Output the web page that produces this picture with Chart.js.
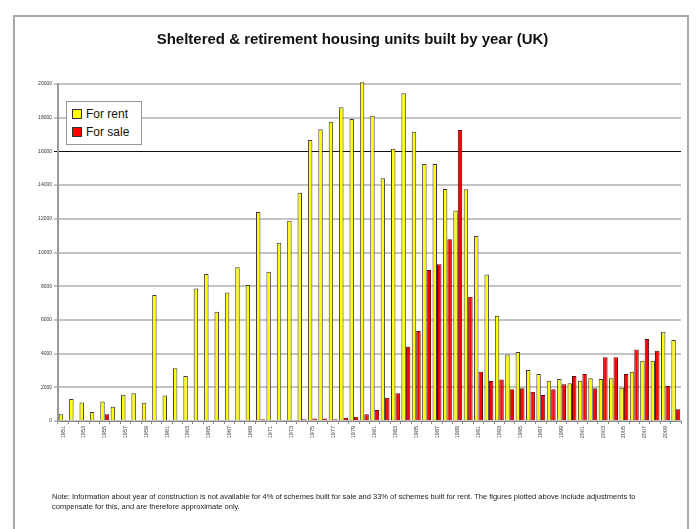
<!DOCTYPE html>
<html>
<head>
<meta charset="utf-8">
<script src="https://cdn.jsdelivr.net/npm/chart.js@4.4.1/dist/chart.umd.min.js"></script>
<style>
    html, body { margin: 0; padding: 0; background: #fff; overflow: hidden; }
    #wrap { position: relative; width: 696px; height: 529px; }
    #frame {
        position: absolute; left: 13px; top: 15px; width: 672px; height: 530px;
        border: 2px solid #a8a8a8;
    }
    #housingChart { position: absolute; left: 0; top: 0; }
    #legendBox {
        position: absolute; left: 66px; top: 101px; width: 74px; height: 42px;
        border: 1px solid #999; background: #fff;
        font-family: "Liberation Sans", Arial, sans-serif; font-size: 12px; color: #111;
    }
    .legend-item { position: absolute; left: 5px; height: 14px; line-height: 14px; }
    .legend-swatch {
        display: inline-block; width: 8px; height: 8px; border: 1px solid #333;
        vertical-align: -1px; margin-right: 4px;
    }
    #note {
        position: absolute; left: 52px; top: 492px; width: 620px; white-space: nowrap;
        font-family: "Liberation Sans", Arial, sans-serif; font-size: 7.5px; line-height: 10px; color: #222;
    }
</style>
</head>
<body>
<div id="wrap">
    <div id="frame"></div>
    <canvas id="housingChart" width="696" height="529"></canvas>
    <div id="legendBox">
        <div class="legend-item" style="top:5px"><span class="legend-swatch" style="background:#ffff00"></span>For rent</div>
        <div class="legend-item" style="top:23px"><span class="legend-swatch" style="background:#ff0000"></span>For sale</div>
    </div>
    <div id="note">Note: Information about year of construction is not available for 4% of schemes built for sale and 33% of schemes built for rent. The figures plotted above include adjustments to<br>compensate for this, and are therefore approximate only.</div>
</div>
<script>
// Years 1951 - 2010
const years = [
    '1951', '1952', '1953', '1954', '1955', '1956', '1957', '1958', '1959', '1960',
    '1961', '1962', '1963', '1964', '1965', '1966', '1967', '1968', '1969', '1970',
    '1971', '1972', '1973', '1974', '1975', '1976', '1977', '1978', '1979', '1980',
    '1981', '1982', '1983', '1984', '1985', '1986', '1987', '1988', '1989', '1990',
    '1991', '1992', '1993', '1994', '1995', '1996', '1997', '1998', '1999', '2000',
    '2001', '2002', '2003', '2004', '2005', '2006', '2007', '2008', '2009', '2010'
];

// Units built for rent
const forRent = [
    400, 1300, 1100, 530, 1150, 850, 1560, 1640, 1090, 7480,
    1520, 3130, 2670, 7870, 8720, 6490, 7620, 9120, 8070, 12400,
    8860, 10580, 11890, 13550, 16680, 17310, 17760, 18620, 17920, 20100,
    18120, 14400, 16160, 19450, 17170, 15250, 15250, 13770, 12500, 13760,
    10980, 8700, 6250, 3950, 4100, 3030, 2790, 2390, 2490, 2240,
    2390, 2530, 2490, 2530, 1980, 2930, 3580, 3580, 5300, 4810
];

// Units built for sale
const forSale = [
    0, 0, 0, 0, 400, 0, 0, 0, 0, 0,
    0, 0, 0, 0, 0, 0, 0, 0, 0, 100,
    0, 0, 0, 100, 150, 150, 100, 200, 250, 400,
    650, 1380, 1640, 4410, 5340, 8960, 9300, 10780, 17270, 7380,
    2930, 2370, 2470, 1880, 1940, 1740, 1540, 1880, 2180, 2670,
    2790, 1940, 3780, 3780, 2790, 4250, 4870, 4170, 2080, 700
];

const yMax = 20000;
const yStep = 2000;

const ctx = document.getElementById('housingChart').getContext('2d');

new Chart(ctx, {
    type: 'bar',
    data: {
        labels: years,
        datasets: [
            {
                label: 'For rent',
                data: forRent,
                backgroundColor: '#ffff00',
                borderColor: '#3a3a3a',
                borderWidth: 1,
                clip: false
            },
            {
                label: 'For sale',
                data: forSale,
                backgroundColor: '#ff0000',
                borderColor: '#5a0000',
                borderWidth: 1
            }
        ]
    },
    options: {
        responsive: false,
        animation: false,
        datasets: {
            bar: {
                categoryPercentage: 0.86,
                barPercentage: 1.0
            }
        },
        layout: {
            padding: { left: 24, right: 15, top: 0, bottom: 0 }
        },
        plugins: {
            legend: { display: false },
            tooltip: { enabled: false },
            title: {
                display: true,
                text: 'Sheltered & retirement housing units built by year (UK)',
                color: '#111',
                font: { family: '"Liberation Sans", Arial, sans-serif', size: 15, weight: 'bold' },
                padding: { top: 31, bottom: 35 }
            }
        },
        scales: {
            x: {
                afterFit: (scale) => { scale.height = 108; },
                grid: {
                    display: true,
                    drawOnChartArea: false,
                    offset: true,
                    tickLength: 3,
                    color: '#888'
                },
                border: { color: '#888', width: 1 },
                ticks: {
                    autoSkip: false,
                    maxRotation: 90,
                    minRotation: 90,
                    padding: 2,
                    color: '#444',
                    font: { family: '"Liberation Sans", Arial, sans-serif', size: 5.5 },
                    callback: function (value, index) {
                        return index % 2 === 0 ? this.getLabelForValue(value) : '';
                    }
                }
            },
            y: {
                min: 0,
                max: yMax,
                afterFit: (scale) => { scale.width = 34; },
                grid: {
                    color: (c) => (c.tick && c.tick.value === 16000) ? '#111' : '#c4c4c4',
                    lineWidth: (c) => (c.tick && c.tick.value === 16000) ? 1 : 2,
                    tickLength: 4,
                    drawTicks: true
                },
                border: { color: '#999', width: 2 },
                ticks: {
                    stepSize: yStep,
                    padding: 2,
                    color: '#333',
                    font: { family: '"Liberation Sans", Arial, sans-serif', size: 5 },
                    callback: (v) => String(v)
                }
            }
        }
    }
});
</script>
</body>
</html>
